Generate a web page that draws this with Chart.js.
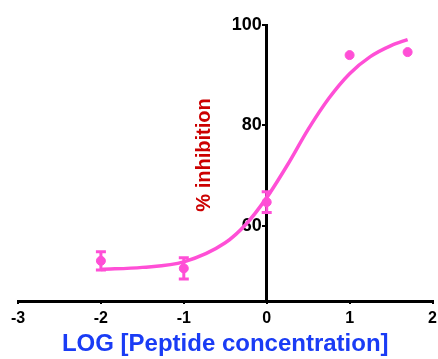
<!DOCTYPE html>
<html>
<head>
<meta charset="utf-8">
<script src="https://cdn.jsdelivr.net/npm/chart.js@4/dist/chart.umd.min.js"></script>
<style>
  html, body { margin: 0; padding: 0; background: #fff; }
  #wrap { width: 438px; height: 359px; }
</style>
</head>
<body>
<div id="wrap"><canvas id="grafico"></canvas></div>
<script>
// pontos medidos (media +/- erro)
const doseLog = [-2, -1, 0, 1, 1.7];
const inibicao = [53, 51.5, 64.7, 94, 94.6];
const erro = [1.8, 2.1, 2.05, 0, 0];

// curva ajustada
const curvaX = [-2, -1.5, -1, -0.5, -0.25, 0, 0.25, 0.5, 0.75, 1, 1.25, 1.5, 1.7];
const curvaY = [51.3, 51.7, 52.8, 56.6, 60.3, 65.6, 72.1, 79.2, 85.4, 90.3, 93.7, 95.9, 97.1];

const ticksX = [-3, -2, -1, 0, 1, 2];
const ticksY = [60, 80, 100];

const rosa = '#ff4fd6';
const fonte = '"Liberation Sans", Arial, sans-serif';

// barras de erro desenhadas pelas escalas do grafico
const barrasErro = {
    id: 'barrasErro',
    afterDatasetsDraw(chart) {
        const ctx = chart.ctx;
        const sx = chart.scales.x, sy = chart.scales.y;
        ctx.save();
        ctx.strokeStyle = rosa;
        ctx.lineWidth = 3;
        doseLog.forEach((x, i) => {
            if (!erro[i]) return;
            const px = sx.getPixelForValue(x);
            const top = sy.getPixelForValue(inibicao[i] + erro[i]);
            const bot = sy.getPixelForValue(inibicao[i] - erro[i]);
            ctx.beginPath();
            ctx.moveTo(px, top); ctx.lineTo(px, bot);
            ctx.moveTo(px - 5, top); ctx.lineTo(px + 5, top);
            ctx.moveTo(px - 5, bot); ctx.lineTo(px + 5, bot);
            ctx.stroke();
        });
        ctx.restore();
    }
};

// titulo do eixo y (girado, a esquerda do eixo central)
const tituloY = {
    id: 'tituloY',
    afterDraw(chart) {
        const ctx = chart.ctx;
        const px = chart.scales.x.getPixelForValue(0) - 62;
        const py = (chart.chartArea.top + chart.chartArea.bottom) / 2 - 8;
        ctx.save();
        ctx.translate(px, py);
        ctx.rotate(-Math.PI / 2);
        ctx.fillStyle = '#cc0000';
        ctx.font = 'bold 20px ' + fonte;
        ctx.textAlign = 'center';
        ctx.textBaseline = 'middle';
        ctx.fillText('% inhibition', 0, 0);
        ctx.restore();
    }
};

new Chart(document.getElementById('grafico'), {
    type: 'scatter',
    data: {
        datasets: [
            {
                type: 'line',
                data: curvaX.map((x, i) => ({ x: x, y: curvaY[i] })),
                borderColor: rosa,
                borderWidth: 3.5,
                pointRadius: 0,
                cubicInterpolationMode: 'monotone',
                fill: false
            },
            {
                data: doseLog.map((x, i) => ({ x: x, y: inibicao[i] })),
                backgroundColor: rosa,
                borderColor: rosa,
                pointRadius: 4.5
            }
        ]
    },
    options: {
        responsive: true,
        maintainAspectRatio: false,
        animation: false,
        layout: { padding: { left: 18, right: 4, top: 25, bottom: 0 } },
        plugins: { legend: { display: false }, tooltip: { enabled: false } },
        scales: {
            x: {
                type: 'linear',
                min: -3,
                max: 2,
                afterBuildTicks: s => { s.ticks = ticksX.map(v => ({ value: v })); },
                afterFit: s => { s.paddingLeft = 0; s.paddingRight = 0; s.height = 58; },
                border: { display: true, color: '#000', width: 3 },
                grid: { drawOnChartArea: false, drawTicks: true, tickLength: 3, color: '#000', lineWidth: 2 },
                ticks: { color: '#000', padding: 5, font: { family: fonte, size: 16, weight: 'bold' } },
                title: {
                    display: true,
                    text: 'LOG [Peptide concentration]',
                    color: '#1a3cf5',
                    padding: { top: 0, bottom: 0 },
                    font: { family: fonte, size: 24, weight: 'bold' }
                }
            },
            y: {
                type: 'linear',
                position: { x: 0 },
                min: 45,
                max: 100,
                afterBuildTicks: s => { s.ticks = ticksY.map(v => ({ value: v })); },
                border: { display: true, color: '#000', width: 3 },
                grid: { drawOnChartArea: false, drawTicks: true, tickLength: 3, color: '#000', lineWidth: 2 },
                ticks: {
                    color: '#000',
                    font: { family: fonte, size: 18, weight: 'bold' },
                    // afasta o rotulo da linha do eixo
                    callback: v => v + ' '
                }
            }
        }
    },
    plugins: [barrasErro, tituloY]
});
</script>
</body>
</html>
